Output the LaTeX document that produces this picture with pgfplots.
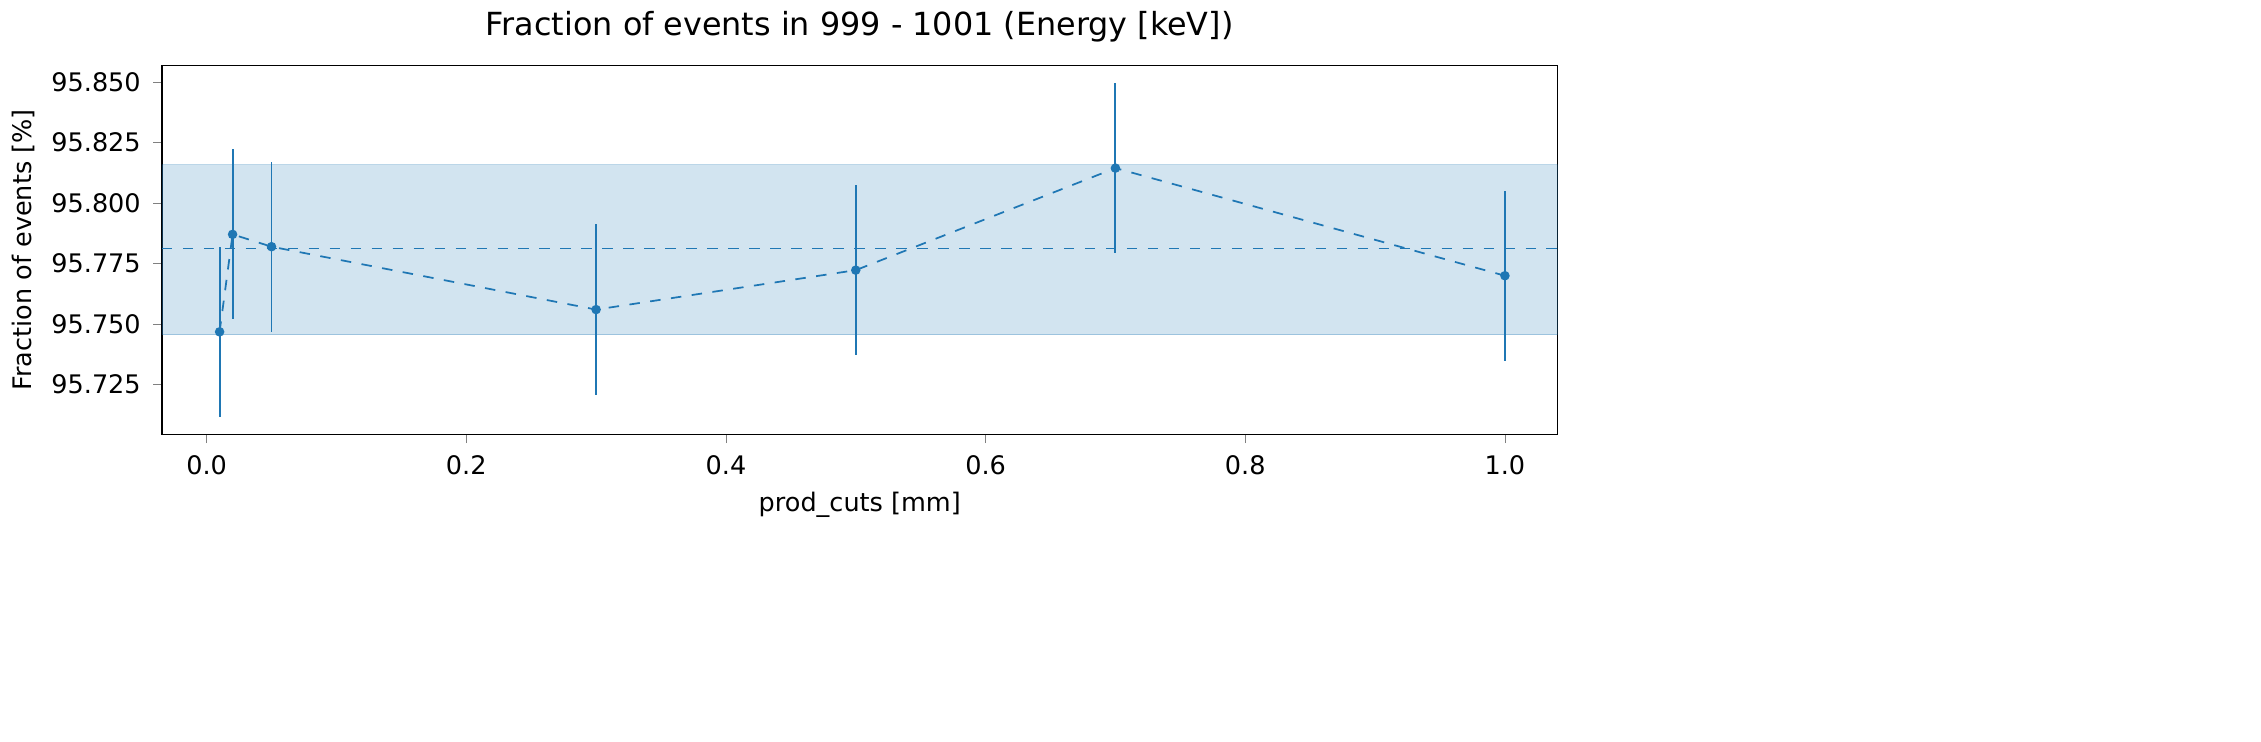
\documentclass[border=0pt]{standalone}
\usepackage{pgfplots}
\pgfplotsset{compat=1.18}
\usepackage{fontspec}
\setmainfont{DejaVu Sans}
\definecolor{mplblue}{HTML}{1F77B4}
\begin{document}
\begin{tikzpicture}
\path (-1.51cm,-3.09cm) rectangle (21.10cm,4.16cm);
\begin{axis}[
  scale only axis, width=14.03cm, height=3.71cm,
  at={(0,0)},
  xmin=-0.0345, xmax=1.0406, ymin=95.7044, ymax=95.857,
  xtick={0,0.2,0.4,0.6,0.8,1.0},
  ytick={95.725,95.75,95.775,95.8,95.825,95.85},
  xticklabel style={/pgf/number format/.cd,fixed,fixed zerofill,precision=1},
  yticklabel style={/pgf/number format/.cd,fixed,fixed zerofill,precision=3},
  /pgf/number format/assume math mode=true,
  scaled y ticks=false,
  tick label style={font=\fontsize{7.3}{9}\selectfont},
  label style={font=\fontsize{7.3}{9}\selectfont},
  title style={font=\fontsize{9.1}{11}\selectfont, yshift=-3pt},
  title={Fraction of events in 999 - 1001 (Energy [keV])},
  xlabel={prod\_cuts [mm]},
  ylabel={Fraction of events [\%]},
  xlabel style={yshift=2pt},
  ylabel style={yshift=-2pt},
  tick align=outside, xtick pos=bottom, ytick pos=left,
  major tick length=2.5pt,
  axis line style={line width=0.4pt},
]
\fill[mplblue, opacity=0.2, draw=mplblue, draw opacity=0.3] (axis cs:-0.0345,95.7456) rectangle (axis cs:1.0406,95.8159);
\addplot[mplblue, dashed, line width=0.5pt] coordinates {(-0.0345,95.7813) (1.0406,95.7813)};
\addplot[mplblue, dashed, line width=0.5pt, mark=*, mark size=1.1pt, mark options={solid},
  error bars/.cd, y dir=both, y explicit, error bar style={solid, line width=0.55pt}, error mark=none]
  coordinates {
  (0.01,95.7468) +- (0,0.0352)
  (0.02,95.7871) +- (0,0.0352)
  (0.05,95.7820) +- (0,0.0352)
  (0.30,95.7560) +- (0,0.0352)
  (0.50,95.7723) +- (0,0.0352)
  (0.70,95.8145) +- (0,0.0352)
  (1.00,95.7700) +- (0,0.0352)
  };
\end{axis}
\end{tikzpicture}
\end{document}
